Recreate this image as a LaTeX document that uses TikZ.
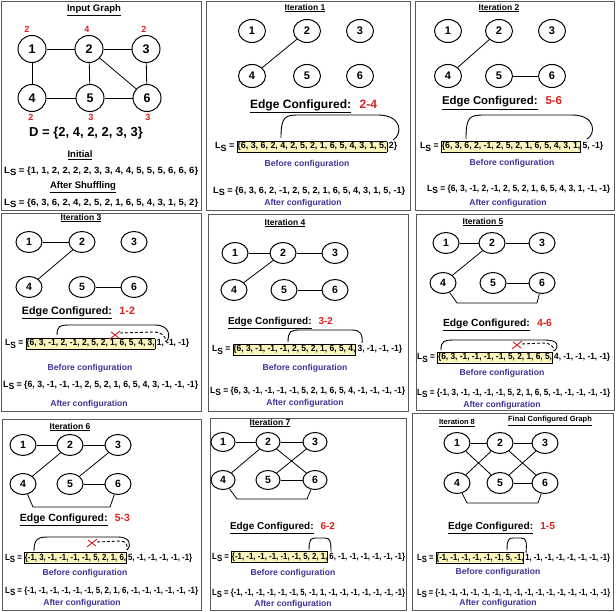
\documentclass[tikz,border=0pt]{standalone}
\usepackage{fontspec}
\setmainfont{Liberation Sans}
\usepackage{graphicx}
\usetikzlibrary{shapes.geometric}
\definecolor{myred}{RGB}{220,30,30}
\definecolor{cfgblue}{RGB}{60,50,150}
\definecolor{boxfill}{RGB}{252,246,190}
\definecolor{frame}{gray}{0.35}
\newcommand\LSpre{L\raisebox{-2.5pt}{S}\ =\ }
\newcommand\hl[1]{{\setlength\fboxsep{0pt}\setlength\fboxrule{0.8pt}\fcolorbox{black}{boxfill}{\rule[-3pt]{0pt}{10pt}#1}}}
\newcommand\lst[2]{\resizebox{#1pt}{\height}{\fontsize{9}{10}\selectfont\bfseries #2}}
\newcommand\EC[2]{\resizebox{#1pt}{!}{\fontsize{12}{12}\selectfont\bfseries\underline{Edge Configured:}\hspace{0.7em}\textcolor{myred}{#2}}}
\tikzset{
 panel/.style={draw=frame, line width=0.9pt},
 vx/.style={ellipse, draw, line width=1pt, fill=white, inner sep=0pt, minimum width=26pt, minimum height=21pt, font=\fontsize{10.5}{10}\selectfont\bfseries},
 vxA/.style={vx, minimum width=28pt, minimum height=27pt, font=\fontsize{12.5}{12}\selectfont\bfseries},
 vxB/.style={vx, minimum width=27pt, minimum height=23pt, font=\fontsize{11}{11}\selectfont\bfseries},
 vxS/.style={vx, minimum width=24pt, minimum height=19pt},
 ed/.style={line width=0.8pt},
 deg/.style={text=myred, font=\fontsize{9}{9}\selectfont\bfseries, inner sep=0pt},
 title/.style={font=\fontsize{8.5}{9}\selectfont\bfseries, inner sep=0pt},
 sub/.style={font=\fontsize{9.5}{10}\selectfont\bfseries, inner sep=0pt},
 lsn/.style={anchor=base west, inner sep=0pt},
 cfg/.style={text=cfgblue, font=\fontsize{8.6}{9}\selectfont\bfseries, inner sep=0pt},
 ecn/.style={inner sep=0pt},
 arcl/.style={line width=0.9pt},
 dsh/.style={line width=0.9pt, dash pattern=on 3pt off 2pt},
 xm/.style={draw=myred, line width=0.9pt},
}
\begin{document}
\begin{tikzpicture}[x=1pt,y=-1pt]
\useasboundingbox (0,0) rectangle (616,612);
% ---------- frames
\draw[panel] (1,1) rectangle (201,210);
\draw[panel] (206,1) rectangle (410,210);
\draw[panel] (415,1) rectangle (614,210);
\draw[panel] (1,213) rectangle (201,411);
\draw[panel] (208,214) rectangle (408,411);
\draw[panel] (416,214) rectangle (614,410);
\draw[panel] (2,419) rectangle (201,610);
\draw[panel] (210,418) rectangle (406,610);
\draw[panel] (412,413) rectangle (613,610);

% ---------- Panel 1: input graph
\node[title, font=\fontsize{9.5}{10}\selectfont\bfseries] (t1) at (94,10) {\underline{Input Graph}};
\node[vxA] (A1) at (32,49) {1};
\node[vxA] (A2) at (89,49) {2};
\node[vxA] (A3) at (146,49) {3};
\node[vxA] (A4) at (32,98) {4};
\node[vxA] (A5) at (90,98) {5};
\node[vxA] (A6) at (147,98) {6};
\draw[ed] (A1) -- (A2); \draw[ed] (A2) -- (A3); \draw[ed] (A1) -- (A4);
\draw[ed] (A2) -- (A5); \draw[ed] (A2) -- (A6); \draw[ed] (A3) -- (A6);
\draw[ed] (A4) -- (A5); \draw[ed] (A5) -- (A6);
\node[deg] (d1) at (27,29) {2};
\node[deg] (d2) at (87,29) {4};
\node[deg] (d3) at (144,29) {2};
\node[deg] (d4) at (31,117) {2};
\node[deg] (d5) at (91,117) {3};
\node[deg] (d6) at (148,117) {3};
\node[inner sep=0pt, font=\fontsize{13}{13}\selectfont\bfseries] (dset) at (86,133) {D = \{2, 4, 2, 2, 3, 3\}};
\node[sub] (ini) at (80,155) {\underline{Initial}};
\node[lsn] (L1) at (4,173.3) {\lst{194}{\LSpre\{1, 1, 2, 2, 2, 2, 3, 3, 4, 4, 5, 5, 5, 6, 6, 6\}}};
\node[sub] (shuf) at (83,187) {\underline{After Shuffling}};
\node[lsn] (L2) at (4,205.3) {\lst{194}{\LSpre\{6, 3, 6, 2, 4, 2, 5, 2, 1, 6, 5, 4, 3, 1, 5, 2\}}};

% ---------- Panel 2: iteration 1
\node[title] (t2) at (305,8) {\underline{Iteration 1}};
\node[vxB] (B1) at (252,31) {1};
\node[vxB] (B2) at (307,31) {2};
\node[vxB] (B3) at (360,31) {3};
\node[vxB] (B4) at (252,76) {4};
\node[vxB] (B5) at (307,76) {5};
\node[vxB] (B6) at (360,76) {6};
\draw[ed] (B2) -- (B4);
\node[ecn] (e2) at (313.5,106) {\EC{127}{2-4}};
\node[lsn] (bb2) at (215,149) {\lst{182}{\LSpre\hl{\{6, 3, 6, 2, 4, 2, 5, 2, 1, 6, 5, 4, 3, 1, 5,}\,2\}}};
\coordinate (s2) at (281,138); \coordinate (f2) at (393,140);
\draw[arcl] (s2) .. controls (281,116) and (285,115) .. (300,115) -- (378,115) .. controls (402,115) and (403,134) .. (f2);
\node[cfg] (bc2) at (307,164) {Before configuration};
\node[lsn] (ba2) at (213,193.3) {\lst{192}{\LSpre\{6, 3, 6, 2, -1, 2, 5, 2, 1, 6, 5, 4, 3, 1, 5, -1\}}};
\node[cfg] (ac2) at (303,203) {After configuration};

% ---------- Panel 3: iteration 2
\node[title] (t3) at (499,8) {\underline{Iteration 2}};
\node[vxB] (C1) at (448,31) {1};
\node[vxB] (C2) at (499,31) {2};
\node[vxB] (C3) at (552,31) {3};
\node[vxB] (C4) at (448,76) {4};
\node[vxB] (C5) at (499,76) {5};
\node[vxB] (C6) at (552,76) {6};
\draw[ed] (C2) -- (C4); \draw[ed] (C5) -- (C6);
\node[ecn] (e3) at (502,103) {\EC{120}{5-6}};
\node[lsn] (bb3) at (420,149) {\lst{183}{\LSpre\hl{\{6, 3, 6, 2, -1, 2, 5, 2, 1, 6, 5, 4, 3, 1,}\,5, -1\}}};
\coordinate (s3) at (466,139); \coordinate (f3) at (587,139);
\draw[arcl] (s3) .. controls (466,116) and (470,115) .. (485,115) -- (572,115) .. controls (596,115) and (596,134) .. (f3);
\node[cfg] (bc3) at (512,163) {Before configuration};
\node[lsn] (ba3) at (427,191.3) {\lst{183}{\LSpre\{6, 3, -1, 2, -1, 2, 5, 2, 1, 6, 5, 4, 3, 1, -1, -1\}}};
\node[cfg] (ac3) at (508,203) {After configuration};

% ---------- Panel 4: iteration 3
\node[title] (t4) at (81,218) {\underline{Iteration 3}};
\node[vx] (D1) at (29,242) {1};
\node[vx] (D2) at (82,242) {2};
\node[vx] (D3) at (134,242) {3};
\node[vx] (D4) at (29,287) {4};
\node[vx] (D5) at (82,287) {5};
\node[vx] (D6) at (134,287) {6};
\draw[ed] (D1) -- (D2); \draw[ed] (D2) -- (D4); \draw[ed] (D5) -- (D6);
\node[ecn] (e4) at (78.5,313) {\EC{113}{1-2}};
\node[lsn] (bb4) at (5,346) {\lst{184}{\LSpre\hl{\{6, 3, -1, 2, -1, 2, 5, 2, 1, 6, 5, 4, 3,}\,1, -1, -1\}}};
\coordinate (s4) at (57,335); \coordinate (f4) at (166,342); \coordinate (x4) at (115,335);
\draw[arcl] (s4) .. controls (57,326) and (60,325) .. (70,325) -- (155,325) .. controls (170,325) and (171,337) .. (f4);
\draw[dsh] (120,333) -- (153,332) .. controls (162,332) and (166,336) .. (f4);
\draw[xm] (x4) +(-5,4) -- +(5,-4) (x4) +(-4,-3) -- +(4,3);
\node[cfg] (bc4) at (90,368) {Before configuration};
\node[lsn] (ba4) at (3,387.3) {\lst{195}{\LSpre\{6, 3, -1, -1, -1, 2, 5, 2, 1, 6, 5, 4, 3, -1, -1, -1\}}};
\node[cfg] (ac4) at (89,404) {After configuration};

% ---------- Panel 5: iteration 4
\node[title] (t5) at (285,223) {\underline{Iteration 4}};
\node[vx] (E1) at (235,253) {1};
\node[vx] (E2) at (283,253) {2};
\node[vx] (E3) at (335,253) {3};
\node[vx] (E4) at (234,290) {4};
\node[vx] (E5) at (284,290) {5};
\node[vx] (E6) at (335,290) {6};
\draw[ed] (E1) -- (E2); \draw[ed] (E2) -- (E3); \draw[ed] (E2) -- (E4); \draw[ed] (E5) -- (E6);
\node[ecn] (e5) at (280.5,323) {\EC{105}{3-2}};
\node[lsn] (bb5) at (212,352) {\lst{190}{\LSpre\hl{\{6, 3, -1, -1, -1, 2, 5, 2, 1, 6, 5, 4,}\,3, -1, -1, -1\}}};
\coordinate (s5) at (288,342); \coordinate (f5) at (362,343);
\draw[arcl] (s5) .. controls (288,331) and (291,330) .. (300,330) -- (352,330) .. controls (361,330) and (363,335) .. (f5);
\node[cfg] (bc5) at (305,368) {Before configuration};
\node[lsn] (ba5) at (210,393.3) {\lst{195}{\LSpre\{6, 3, -1, -1, -1, -1, 5, 2, 1, 6, 5, 4, -1, -1, -1, -1\}}};
\node[cfg] (ac5) at (305,403) {After configuration};

% ---------- Panel 6: iteration 5
\node[title] (t6) at (483,222) {\underline{Iteration 5}};
\node[vx] (F1) at (446,243) {1};
\node[vx] (F2) at (492,243) {2};
\node[vx] (F3) at (542,243) {3};
\node[vx] (F4) at (443,283) {4};
\node[vx] (F5) at (493,283) {5};
\node[vx] (F6) at (542,283) {6};
\coordinate (F46a) at (457,303); \coordinate (F46b) at (537,303);
\draw[ed] (F1) -- (F2); \draw[ed] (F2) -- (F3); \draw[ed] (F2) -- (F4); \draw[ed] (F5) -- (F6);
\draw[ed] (F4) -- (F46a) -- (F46b) -- (F6);
\node[ecn] (e6) at (497.5,325) {\EC{109}{4-6}};
\node[lsn] (bb6) at (417,360) {\lst{193}{\LSpre\hl{\{6, 3, -1, -1, -1, -1, 5, 2, 1, 6, 5,}\,4, -1, -1, -1, -1\}}};
\coordinate (s6) at (441,350); \coordinate (f6) at (554,351); \coordinate (x6) at (517,345);
\draw[arcl] (s6) .. controls (441,341) and (444,340) .. (455,340) -- (545,340) .. controls (558,340) and (560,346) .. (f6);
\draw[dsh] (522,344) -- (543,343) .. controls (550,343) and (554,346) .. (f6);
\draw[xm] (x6) +(-5,4) -- +(5,-4) (x6) +(-4,-3) -- +(4,3);
\node[cfg] (bc6) at (502,373) {Before configuration};
\node[lsn] (ba6) at (417,395.3) {\lst{193}{\LSpre\{-1, 3, -1, -1, -1, -1, 5, 2, 1, 6, 5, -1, -1, -1, -1, -1\}}};
\node[cfg] (ac6) at (502,405) {After configuration};

% ---------- Panel 7: iteration 6
\node[title] (t7) at (70,427) {\underline{Iteration 6}};
\node[vx] (G1) at (23,445) {1};
\node[vx] (G2) at (70,445) {2};
\node[vx] (G3) at (118,445) {3};
\node[vx] (G4) at (23,484) {4};
\node[vx] (G5) at (70,484) {5};
\node[vx] (G6) at (118,484) {6};
\coordinate (G46a) at (33,507); \coordinate (G46b) at (110,507);
\draw[ed] (G1) -- (G2); \draw[ed] (G2) -- (G3); \draw[ed] (G2) -- (G4);
\draw[ed] (G5) -- (G3); \draw[ed] (G5) -- (G6);
\draw[ed] (G4) -- (G46a) -- (G46b) -- (G6);
\node[ecn] (e7) at (75,520) {\EC{110}{5-3}};
\node[lsn] (bb7) at (5,560) {\lst{187}{\LSpre\hl{\{-1, 3, -1, -1, -1, -1, 5, 2, 1, 6,}\,5, -1, -1, -1, -1, -1\}}};
\coordinate (s7) at (34,551); \coordinate (f7) at (127,550); \coordinate (x7) at (92,543);
\draw[arcl] (s7) .. controls (34,539) and (38,537) .. (48,537) -- (118,537) .. controls (130,537) and (132,545) .. (f7);
\draw[dsh] (97,542) -- (120,541) .. controls (126,541) and (128,545) .. (f7);
\draw[xm] (x7) +(-5,4) -- +(5,-4) (x7) +(-4,-3) -- +(4,3);
\node[cfg] (bc7) at (85,573) {Before configuration};
\node[lsn] (ba7) at (5,593.3) {\lst{193}{\LSpre\{-1, -1, -1, -1, -1, -1, 5, 2, 1, 6, -1, -1, -1, -1, -1, -1\}}};
\node[cfg] (ac7) at (82,603) {After configuration};

% ---------- Panel 8: iteration 7
\node[title] (t8) at (270,423) {\underline{Iteration 7}};
\node[vxS] (H1) at (223,442) {1};
\node[vxS] (H2) at (268,442) {2};
\node[vxS] (H3) at (315,442) {3};
\node[vxS] (H4) at (223,480) {4};
\node[vxS] (H5) at (268,480) {5};
\node[vxS] (H6) at (315,480) {6};
\coordinate (H46a) at (237,499); \coordinate (H46b) at (307,499);
\draw[ed] (H1) -- (H2); \draw[ed] (H2) -- (H3); \draw[ed] (H2) -- (H4); \draw[ed] (H2) -- (H6);
\draw[ed] (H3) -- (H5); \draw[ed] (H5) -- (H6);
\draw[ed] (H4) -- (H46a) -- (H46b) -- (H6);
\node[ecn] (e8) at (282.5,528) {\EC{105}{6-2}};
\node[lsn] (bb8) at (212,559) {\lst{193}{\LSpre\hl{\{-1, -1, -1, -1, -1, -1, 5, 2, 1,}\,6, -1, -1, -1, -1, -1, -1\}}};
\coordinate (s8) at (309,550); \coordinate (f8) at (331,552);
\draw[arcl] (s8) .. controls (309,539) and (311,538) .. (316,538) -- (325,538) .. controls (330,538) and (331,541) .. (f8);
\node[cfg] (bc8) at (293,573) {Before configuration};
\node[lsn] (ba8) at (212,595.3) {\lst{193}{\LSpre\{-1, -1, -1, -1, -1, -1, 5, -1, 1, -1, -1, -1, -1, -1, -1, -1\}}};
\node[cfg] (ac8) at (293,604) {After configuration};

% ---------- Panel 9: iteration 8
\node[title, font=\fontsize{7.5}{8}\selectfont\bfseries] (t9) at (457,423) {\underline{Iteration 8}};
\node[title, font=\fontsize{7.5}{8}\selectfont\bfseries] (t9b) at (550,421) {\underline{Final Configured Graph}};
\node[vx] (I1) at (457,443) {1};
\node[vx] (I2) at (500,443) {2};
\node[vx] (I3) at (545,443) {3};
\node[vx] (I4) at (457,483) {4};
\node[vx] (I5) at (500,483) {5};
\node[vx] (I6) at (545,483) {6};
\coordinate (I46a) at (467,503); \coordinate (I46b) at (538,503);
\draw[ed] (I1) -- (I2); \draw[ed] (I2) -- (I3); \draw[ed] (I1) -- (I5); \draw[ed] (I2) -- (I4);
\draw[ed] (I2) -- (I6); \draw[ed] (I3) -- (I5); \draw[ed] (I5) -- (I6);
\draw[ed] (I4) -- (I46a) -- (I46b) -- (I6);
\node[ecn] (e9) at (501.5,528) {\EC{107}{1-5}};
\node[lsn] (bb9) at (417,560) {\lst{193}{\LSpre\hl{\{-1, -1, -1, -1, -1, -1, 5, -1,}\,1, -1, -1, -1, -1, -1, -1, -1\}}};
\coordinate (s9) at (507,550); \coordinate (f9) at (526,553);
\draw[arcl] (s9) .. controls (507,539) and (509,538) .. (513,538) -- (521,538) .. controls (526,538) and (527,541) .. (f9);
\node[cfg] (bc9) at (498,572) {Before configuration};
\node[lsn] (ba9) at (417,595.3) {\lst{193}{\LSpre\{-1, -1, -1, -1, -1, -1, -1, -1, -1, -1, -1, -1, -1, -1, -1, -1\}}};
\node[cfg] (ac9) at (498,603) {After configuration};
\end{tikzpicture}
\end{document}
